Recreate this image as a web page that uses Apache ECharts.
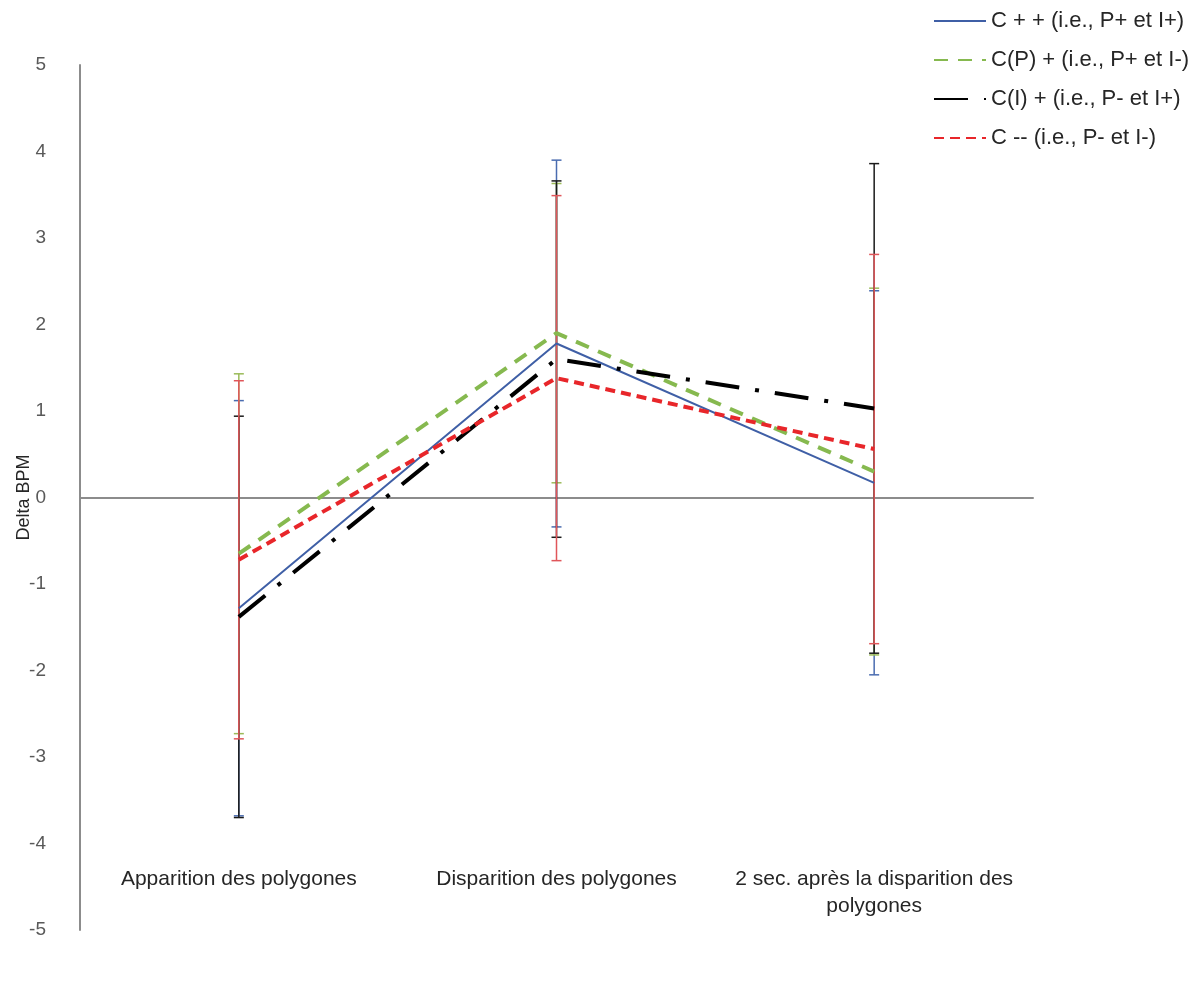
<!DOCTYPE html>
<html>
<head>
<meta charset="utf-8">
<script src="https://cdn.jsdelivr.net/npm/echarts@6/dist/echarts.min.js"></script>
<style>
  html, body { margin: 0; padding: 0; background: #fff; }
  #main { width: 1199px; height: 996px; }
</style>
</head>
<body>
<div id="main"></div>
<script>
// categories and values
var categories = ['Apparition des polygones', 'Disparition des polygones', '2 sec. après la disparition des\npolygones']
var yTicks = [-5, 5, 1]

var names = ['C + + (i.e., P+ et I+)', 'C(P) + (i.e., P+ et I-)', 'C(I) + (i.e., P- et I+)', 'C -- (i.e., P- et I-)']

var cPP = [-1.28, 1.78, 0.17]
var cPI = [-0.65, 1.90, 0.30]
var cIP = [-1.38, 1.60, 1.03]
var cMM = [-0.72, 1.38, 0.56]

// error bars (+/- same amount)
var errPP = [2.40, 2.12, 2.22]
var errPI = [2.08, 1.73, 2.12]
var errIP = [2.32, 2.06, 2.83]
var errMM = [2.07, 2.11, 2.25]

var lineColors = ['#3f5fa6', '#86b94f', '#000000', '#e8262a']
var barColors = ['#4a6cb0', '#9bbb59', '#1a1a1a', '#e0565a']
var lineDash = ['solid', [14, 10], [34, 16, 4, 16], [10, 6]]
var lineWidth = [2, 4, 4, 4]

var values = [cPP, cPI, cIP, cMM]
var errs = [errPP, errPI, errIP, errMM]

var myChart = echarts.init(document.getElementById('main'))

function errorBar(color) {
  return function(params, api) {
    var x = api.value(0)
    var m = api.value(1)
    var e = api.value(2)
    var hi = api.coord([x, m + e])
    var lo = api.coord([x, m - e])
    var w = 5
    var st = { stroke: color, lineWidth: 1.5 }
    return {
      type: 'group',
      children: [
        { type: 'line', shape: { x1: hi[0], y1: hi[1], x2: lo[0], y2: lo[1] }, style: st },
        { type: 'line', shape: { x1: hi[0] - w, y1: hi[1], x2: hi[0] + w, y2: hi[1] }, style: st },
        { type: 'line', shape: { x1: lo[0] - w, y1: lo[1], x2: lo[0] + w, y2: lo[1] }, style: st }
      ]
    }
  }
}

var series = []
values.forEach(function(v, i) {
  series.push({
    name: 'err' + i,
    type: 'custom',
    renderItem: errorBar(barColors[i]),
    data: v.map(function(m, k) { return [k, m, errs[i][k]] }),
    z: 1,
    silent: true
  })
})
values.forEach(function(v, i) {
  series.push({
    name: names[i],
    type: 'line',
    data: v,
    symbol: 'none',
    color: lineColors[i],
    lineStyle: { color: lineColors[i], width: lineWidth[i], type: lineDash[i] },
    z: 3
  })
})

var option = {
  animation: false,
  textStyle: { fontFamily: 'Liberation Sans, Arial, sans-serif' },
  legend: {
    data: names,
    orient: 'vertical',
    left: 928,
    top: 5,
    itemWidth: 52,
    itemHeight: 14,
    itemGap: 17,
    itemStyle: { opacity: 0 },
    textStyle: { fontSize: 22, color: '#262626' }
  },
  grid: { left: 80, right: 166, top: 65, bottom: 66, containLabel: false, outerBoundsMode: 'none' },
  xAxis: {
    type: 'category',
    data: categories,
    axisLine: { onZero: true, lineStyle: { color: '#8c8c8c', width: 2 } },
    axisTick: { show: false },
    axisLabel: { margin: -64, fontSize: 21, color: '#262626', lineHeight: 27, interval: 0 }
  },
  yAxis: {
    type: 'value',
    min: yTicks[0],
    max: yTicks[1],
    interval: yTicks[2],
    name: 'Delta BPM',
    nameLocation: 'middle',
    nameGap: 47,
    nameMoveOverlap: false,
    nameTextStyle: { fontSize: 18, color: '#262626' },
    axisLine: { show: true, lineStyle: { color: '#8c8c8c', width: 2 } },
    axisTick: { show: false },
    splitLine: { show: false },
    axisLabel: { margin: 34, fontSize: 19, color: '#595959' }
  },
  series: series
}

myChart.setOption(option)
</script>
</body>
</html>
